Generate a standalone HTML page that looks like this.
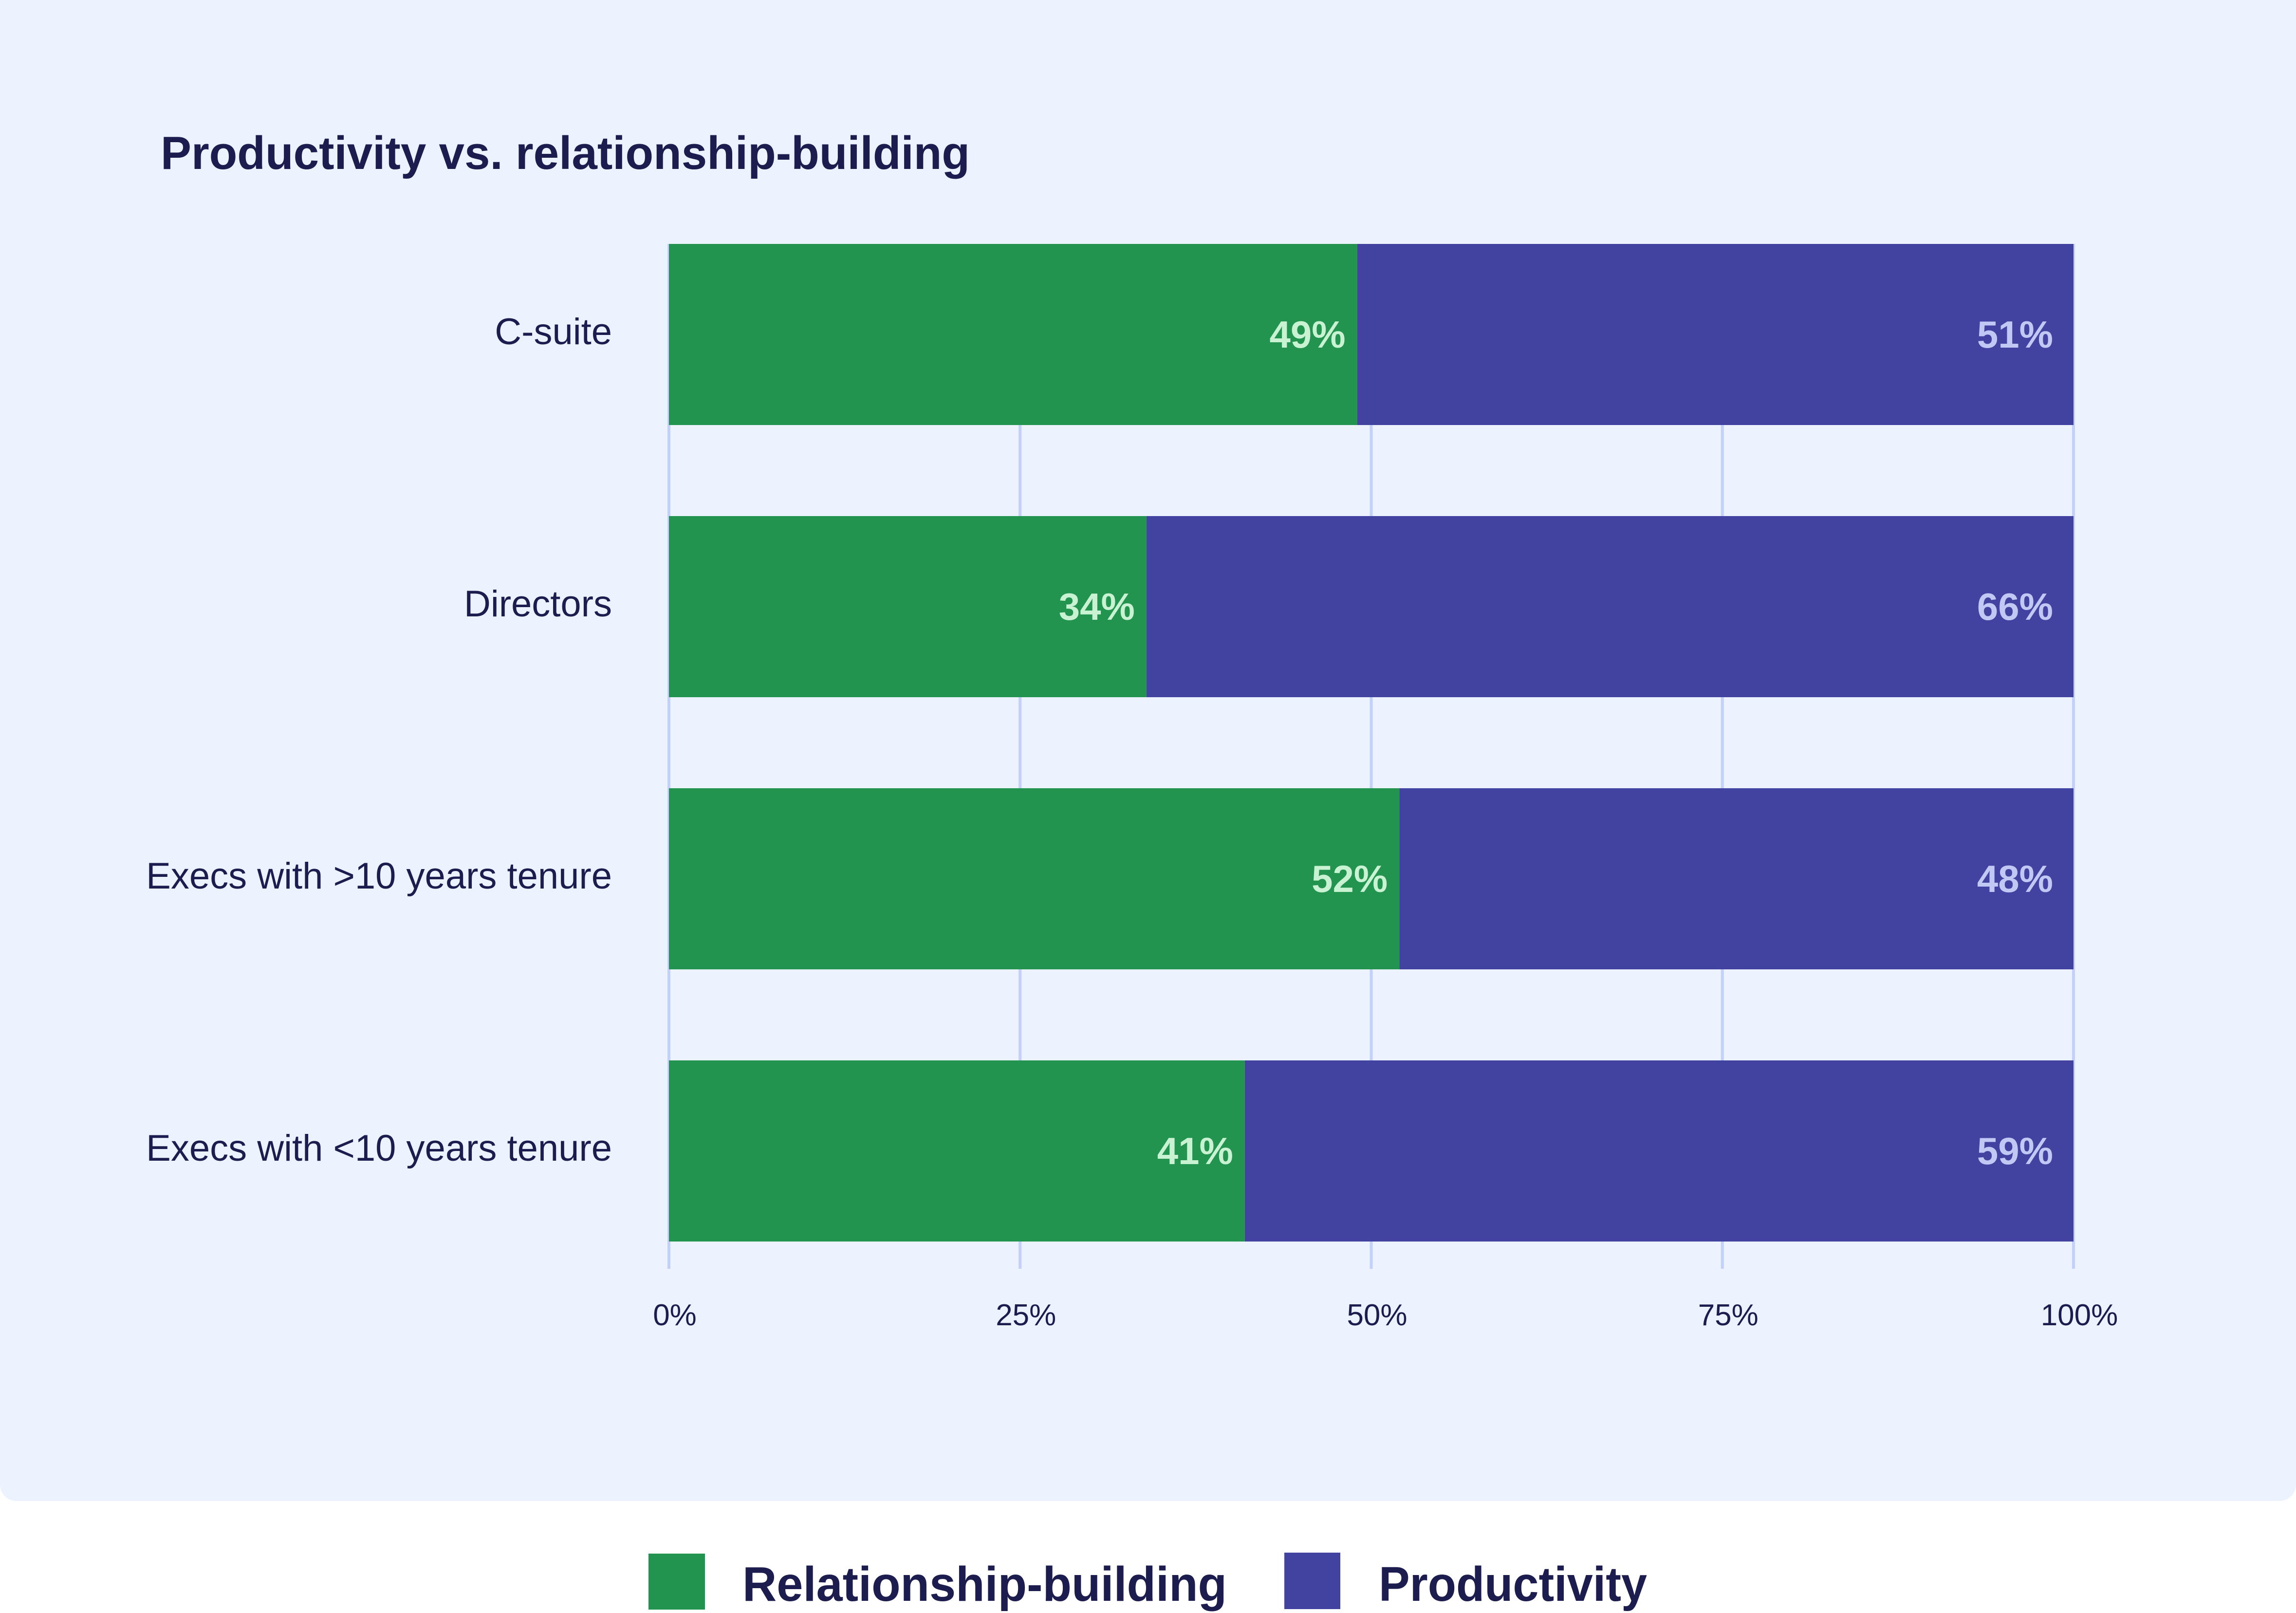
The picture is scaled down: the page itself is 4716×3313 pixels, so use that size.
<!DOCTYPE html>
<html><head><meta charset="utf-8"><style>
html,body{margin:0;padding:0;background:#fff;}
svg{display:block;font-family:"Liberation Sans",sans-serif;}
</style></head><body>
<svg id="chart" width="4716" height="3313" viewBox="0 0 4716 3313">
<rect x="0" y="-40" width="4716" height="3123" rx="34" fill="#ecf2fe"/>
<text x="330" y="347" font-size="96" font-weight="bold" fill="#1c1c4e" textLength="1662" lengthAdjust="spacingAndGlyphs">Productivity vs. relationship-building</text>
<g id="grid"></g><g id="bars"></g><g id="labels"></g>
<g>
<rect x="1332" y="3191" width="116" height="115" fill="#22944f"/>
<text x="1525" y="3288" font-size="100" font-weight="bold" fill="#1c1c4e" textLength="995" lengthAdjust="spacingAndGlyphs">Relationship-building</text>
<rect x="2638" y="3189" width="115" height="116" fill="#4242a0"/>
<text x="2832" y="3288" font-size="100" font-weight="bold" fill="#1c1c4e" textLength="551" lengthAdjust="spacingAndGlyphs">Productivity</text>
</g>
</svg>
<script>
const categories = ["C-suite","Directors","Execs with >10 years tenure","Execs with <10 years tenure"];
const relationship = [49,34,52,41];
const productivity = [51,66,48,59];
const ticks = [0,25,50,75,100];
const tickLabels = ["0%","25%","50%","75%","100%"];

const NS="http://www.w3.org/2000/svg";
const X0=1374, X1=4259, Y0=501, BH=372, PITCH=559;
const x = v => X0 + (X1-X0)*v/100;
const y = i => Y0 + PITCH*i;
function mk(tag, attrs, parent, txt){
  const e=document.createElementNS(NS,tag);
  for(const k in attrs) e.setAttribute(k,attrs[k]);
  if(txt!==undefined) e.textContent=txt;
  parent.appendChild(e); return e;
}
const grid=document.getElementById('grid'), bars=document.getElementById('bars'), labels=document.getElementById('labels');
const svg=document.getElementById('chart');
ticks.forEach((t,i)=>{
  const l=mk('line',{x1:x(t),x2:x(t),y1:Y0,y2:2606,stroke:'#c2d0fa','stroke-width':6},grid);
  
  
  const tx=mk('text',{x:x(t)+12,y:2722,'font-size':62,fill:'#1c1c4e','text-anchor':'middle'},svg,tickLabels[i]);
  
  
});
categories.forEach((c,i)=>{
  const yy=y(i), r=relationship[i], p=productivity[i];
  const g=mk('rect',{x:X0,y:yy,width:x(r)-X0,height:BH,fill:'#22944f'},bars);
  
  
  const pr=mk('rect',{x:x(r),y:yy,width:x(r+p)-x(r),height:BH,fill:'#4242a0'},bars);
  
  
  const cl=mk('text',{x:1257,y:yy+206,'font-size':76,fill:'#1c1c4e','text-anchor':'end'},labels,c);
  
  
  const rl=mk('text',{x:x(r)-24,y:yy+213,'font-size':78,'font-weight':'bold',fill:'#c8f2d2','text-anchor':'end'},labels,r+'%');
  
  
  const pl=mk('text',{x:x(r+p)-42,y:yy+213,'font-size':78,'font-weight':'bold',fill:'#c2c8f4','text-anchor':'end'},labels,p+'%');
  
  
});
</script>
</body></html>
